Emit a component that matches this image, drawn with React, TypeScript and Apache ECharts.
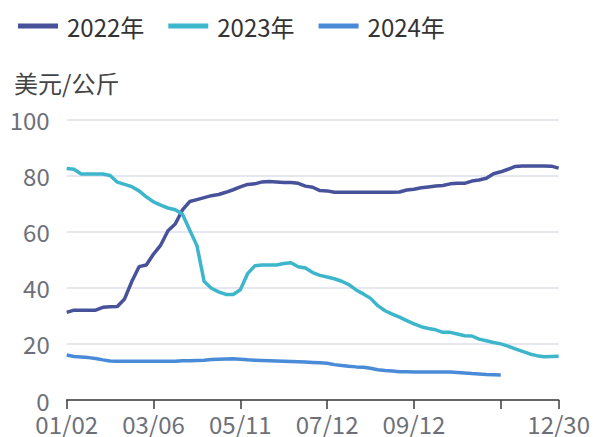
import React, { useEffect, useRef } from "react";
import * as echarts from "echarts";

const categories = [
  "01/02","01/07","01/12","01/17","01/22","01/27","02/01","02/06","02/11","02/16","02/21","02/28",
  "03/06","03/11","03/17","03/22","03/27","04/01","04/07","04/12","04/18","04/24","04/29","05/05",
  "05/11","05/16","05/21","05/26","06/01","06/06","06/11","06/16","06/22","06/27","07/02","07/07",
  "07/12","07/17","07/22","07/27","08/01","08/06","08/11","08/16","08/22","08/27","09/01","09/07",
  "09/12","09/17","09/22","09/27","10/08","10/13","10/18","10/23","10/28","11/02","11/07","11/12",
  "11/17","11/22","11/27","12/02","12/07","12/12","12/17","12/23","12/30"
];

const series2022 = [
  31.2, 32, 32, 32, 32, 33, 33.2, 33.3, 36, 42.2, 47.5, 48.1,
  52, 55.2, 60.3, 62.7, 67.7, 70.7, 71.4, 72.1, 72.8, 73.2, 74, 74.9,
  75.9, 76.8, 77, 77.7, 77.8, 77.7, 77.5, 77.5, 77.2, 76.2, 75.8, 74.6,
  74.5, 74, 74, 74, 74, 74, 74, 74, 74, 74, 74.1, 74.8,
  75.1, 75.6, 75.9, 76.2, 76.4, 77, 77.2, 77.2, 78, 78.4, 79, 80.6,
  81.3, 82.2, 83.2, 83.4, 83.4, 83.4, 83.4, 83.3, 82.6
];

const series2023 = [
  82.5, 82.2, 80.5, 80.5, 80.5, 80.5, 80, 77.6, 76.8, 76, 74.5, 72.4,
  70.6, 69.4, 68.4, 67.8, 66.2, 60.6, 55, 42.2, 39.8, 38.5, 37.6, 37.6,
  39.3, 45, 47.8, 48.1, 48.1, 48.1, 48.6, 48.9, 47.5, 47, 45.4, 44.4,
  43.8, 43.2, 42.3, 41.1, 39.2, 37.8, 36.2, 33.6, 31.8, 30.6, 29.5, 28.3,
  27.1, 26.1, 25.5, 25, 24.1, 24.1, 23.5, 22.9, 22.8, 21.7, 21.1, 20.5,
  20, 19.2, 18.2, 17.3, 16.4, 15.8, 15.4, 15.5, 15.6
];

const series2024 = [
  16, 15.5, 15.3, 15.1, 14.8, 14.3, 13.9, 13.8, 13.8, 13.8, 13.8, 13.8,
  13.8, 13.8, 13.8, 13.8, 14, 14, 14.1, 14.2, 14.4, 14.5, 14.6, 14.7,
  14.5, 14.3, 14.2, 14.1, 14, 13.9, 13.8, 13.7, 13.6, 13.5, 13.4, 13.3,
  13.1, 12.6, 12.3, 12, 11.8, 11.7, 11.3, 10.8, 10.5, 10.3, 10.1, 10.1,
  10, 10, 10, 10, 10, 10, 9.8, 9.6, 9.4, 9.3, 9.1, 9.0,
  8.9
];

const seriesNames = ["2022年", "2023年", "2024年"];
const colors = ["#48529b", "#3db6cc", "#4a8bd8"];
const yTicks = { min: 0, max: 100, interval: 20 };
const yName = "美元/公斤";

const FONT = "'Noto Sans CJK SC', 'Noto Sans', sans-serif";

export default function App() {
  const ref = useRef<HTMLDivElement>(null);
  useEffect(() => {
    if (!ref.current) return;
    const chart = echarts.init(ref.current, undefined, { renderer: "svg" });
    const last = categories.length - 1;
    chart.setOption({
      animation: false,
      color: colors,
      textStyle: { fontFamily: FONT },
      legend: {
        left: 13,
        top: 9,
        icon: "rect",
        itemWidth: 40,
        itemHeight: 5,
        itemGap: 24,
        textStyle: { fontSize: 24, color: "#333", fontFamily: FONT, padding: [0, 0, 0, 4] },
        data: seriesNames,
      },
      grid: { left: 66.7, right: 32.3, top: 119.3, bottom: 37, containLabel: false },
      xAxis: {
        type: "category",
        boundaryGap: false,
        data: categories,
        axisLine: { lineStyle: { color: "#3c3c3c", width: 1.5 } },
        axisTick: {
          length: 9,
          lineStyle: { color: "#3c3c3c", width: 1.5 },
          interval: (i: number) => i % 12 === 0 || i === last,
        },
        axisLabel: {
          fontSize: 24,
          lineHeight: 20,
          color: "#6e7079",
          fontFamily: FONT,
          margin: 13,
          interval: (i: number) => (i % 12 === 0 && i <= 48) || i === last,
        },
      },
      yAxis: {
        type: "value",
        min: yTicks.min,
        max: yTicks.max,
        interval: yTicks.interval,
        name: yName,
        nameLocation: "end",
        nameGap: 25,
        nameTextStyle: { fontSize: 24, color: "#444", fontFamily: FONT, align: "center" },
        axisLine: { show: false },
        axisTick: { show: false },
        axisLabel: { fontSize: 24, color: "#6e7079", fontFamily: FONT, margin: 17 },
        splitLine: { lineStyle: { color: "#dde1ee", width: 1.5 } },
      },
      series: [series2022, series2023, series2024].map((d, k) => ({
        name: seriesNames[k],
        type: "line",
        data: d,
        showSymbol: false,
        symbol: "none",
        lineStyle: { width: 3.5, color: colors[k] },
        itemStyle: { color: colors[k] },
      })),
    });
    return () => chart.dispose();
  }, []);
  return (
    <div
      ref={ref}
      style={{ position: "fixed", left: 0, top: 0, width: 593, height: 437, background: "#fff" }}
    />
  );
}
